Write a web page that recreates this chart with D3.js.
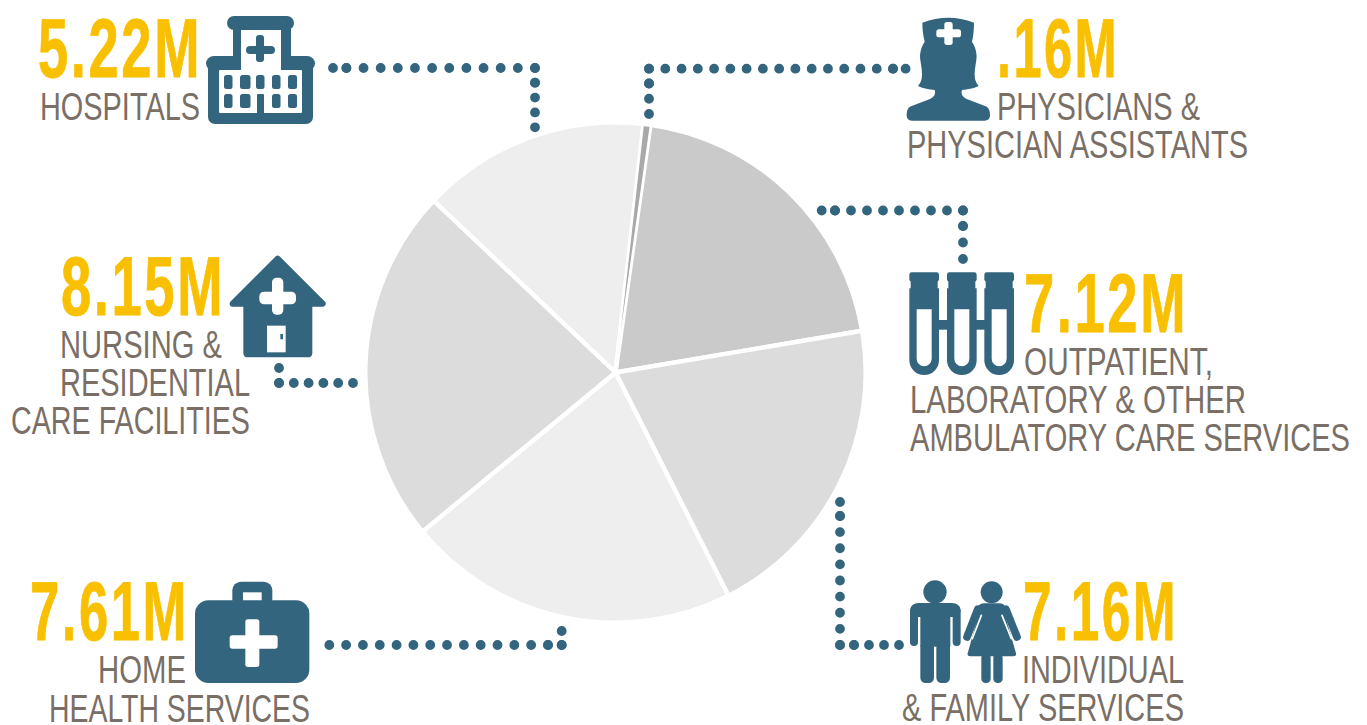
<!DOCTYPE html>
<html>
<head>
<meta charset="utf-8">
<script src="https://cdn.jsdelivr.net/npm/d3@7"></script>
<style>
  html, body { margin: 0; padding: 0; background: #fff; overflow: hidden; }
  svg { display: block; }
  .num { font-family: "Liberation Sans Narrow", "Liberation Sans", sans-serif; font-weight: 700; font-size: 84px; letter-spacing: 4px; fill: #f8c000; stroke: #f8c000; stroke-width: 0.8px; }
  .lab { font-family: "Liberation Sans Narrow", "Liberation Sans", sans-serif; font-weight: 400; font-size: 38.5px; fill: #7a6f66; }
</style>
</head>
<body>
<svg id="chart" width="1367" height="725"></svg>
<script>
// Health care employment by setting, in millions of jobs.
const categories = ["Hospitals", "Physicians & physician assistants", "Outpatient, laboratory & other ambulatory care services", "Individual & family services", "Home health services", "Nursing & residential care facilities"];
const jobsMillions = [5.22, 0.16, 7.12, 7.16, 7.61, 8.15];
const valueLabels = ["5.22M", ".16M", "7.12M", "7.16M", "7.61M", "8.15M"];
const captionLines = [["HOSPITALS"], ["PHYSICIANS &", "PHYSICIAN ASSISTANTS"], ["OUTPATIENT,", "LABORATORY & OTHER", "AMBULATORY CARE SERVICES"], ["INDIVIDUAL", "& FAMILY SERVICES"], ["HOME", "HEALTH SERVICES"], ["NURSING &", "RESIDENTIAL", "CARE FACILITIES"]];
const sliceFills = ["#eeeeee", "#a9a9a9", "#cacaca", "#dcdcdc", "#eeeeee", "#dcdcdc"];

const BLUE = "#34657f";
const svg = d3.select("#chart");

// Pie: clockwise from the hospitals slice. The white keyline eats into each
// slice, so the narrowest slice gets a finer one and is painted last.
const cx = 615.5, cy = 372.5, radius = 250.2;
const startDeg = -46.65;
const FINE = 1.2;
const isThin = d => d.value < 1;
const pie = d3.pie().sort(null).value(d => d)
  .startAngle(startDeg * Math.PI / 180)
  .endAngle((startDeg + 360) * Math.PI / 180);
const arc = d3.arc().innerRadius(0).outerRadius(d => isThin(d) ? radius - 1.6 : radius);
const slices = pie(jobsMillions).map((d, i) => ({ ...d, fill: sliceFills[i] }));
svg.append("g").attr("transform", `translate(${cx},${cy})`)
  .selectAll("path").data(d3.sort(slices, d => isThin(d) ? 1 : 0)).join("path")
  .attr("d", arc)
  .attr("fill", d => d.fill)
  .attr("stroke", "#fff").attr("stroke-width", d => isThin(d) ? FINE : 4.4).attr("stroke-linejoin", "round");

// Dotted leaders. Each run is [from, to, number of gaps].
const leaderRuns = [
  [[333, 68], [346.4, 68], 1], [[346.4, 68], [535, 68], 11], [[535, 68], [535, 82.7], 1], [[535, 82.7], [535, 127.3], 3],
  [[905.6, 68.7], [893, 68.7], 1], [[893, 68.7], [649, 68.7], 15], [[649, 68.7], [649, 83.5], 1], [[649, 83.5], [649, 114], 2],
  [[821.7, 210.5], [835, 210.5], 1], [[835, 210.5], [963, 210.5], 8], [[963, 210.5], [963, 226], 1], [[963, 226], [963, 259], 2],
  [[840, 502], [840, 516], 1], [[840, 516], [840, 645], 8], [[840, 645], [854, 645], 1], [[854, 645], [899, 645], 3],
  [[329.3, 645], [548, 645], 13], [[548, 645], [561.7, 645], 1], [[561.7, 645], [561.7, 631], 1],
  [[279, 368], [279, 383], 1], [[279, 383], [353, 383], 5]
];
const segment = d3.line();
svg.append("g").selectAll("path").data(leaderRuns).join("path")
  .attr("d", d => segment([d[0], d[1]]))
  .attr("fill", "none").attr("stroke", BLUE).attr("stroke-width", 9.8).attr("stroke-linecap", "round")
  .attr("stroke-dasharray", d => {
    const len = Math.hypot(d[1][0] - d[0][0], d[1][1] - d[0][1]);
    return `0 ${len / d[2] - 0.002}`;
  });

// Figures and captions. Each text line carries its left edge, right edge and baseline.
const figureBoxes = [[38, 202, 77], [997, 1119, 77], [1024, 1188, 332], [1023, 1178, 640], [30, 189, 640], [61, 225, 315]];
const captionBoxes = [
  [[40, 200, 120]],
  [[997, 1200, 120], [907, 1248, 158]],
  [[1024, 1213, 375], [910, 1246, 413], [910, 1350, 451]],
  [[1022, 1184, 683], [902, 1184, 721]],
  [[98, 186, 683], [49, 310, 722]],
  [[60, 222, 358], [60, 250, 396], [11, 250, 434]]
];
const fitText = (sel, cls, text, box) => sel.append("text")
  .attr("class", cls).attr("x", box[0]).attr("y", box[2])
  .attr("textLength", box[1] - box[0]).attr("lengthAdjust", "spacingAndGlyphs")
  .text(text);
const textLayer = svg.append("g");
valueLabels.forEach((v, i) => {
  fitText(textLayer, "num", v, figureBoxes[i]);
  captionLines[i].forEach((line, j) => fitText(textLayer, "lab", line, captionBoxes[i][j]));
});

// Pictograms, drawn from simple rounded shapes.
function rect(g, x, y, w, h, r, fill = BLUE) {
  g.append("rect").attr("x", x).attr("y", y).attr("width", w).attr("height", h).attr("rx", r).attr("fill", fill);
}
function shape(g, d, fill = BLUE) { g.append("path").attr("d", d).attr("fill", fill); }
const third = (x, y) => svg.append("g").attr("transform", `translate(${x},${y}) scale(${1 / 3})`);

// Hospital
(function () {
  const g = svg.append("g");
  rect(g, 227, 16, 67, 14, 7);
  rect(g, 233, 22, 58, 42, 0);
  rect(g, 206, 56, 109, 15, 8);
  rect(g, 208, 62, 105, 62, 7);
  rect(g, 241, 30, 40, 44, 0, "#fff");
  rect(g, 219, 70, 83, 43, 1, "#fff");
  rect(g, 246, 46, 29, 8, 4);
  rect(g, 256, 35, 8, 27, 3);
  [[224, 8.5], [240, 10.5], [256, 8.5], [272, 8.5], [288, 9]].forEach(([x, w], c) => {
    rect(g, x, 75, w, 14, 2.5);
    if (c !== 2) rect(g, x, 94, w, 14, 2.5);
  });
  rect(g, 257, 94, 7, 20, 1);
})();

// Nurse
(function () {
  const g = third(880, 0);
  shape(g, "M127 68 Q205 38 282 68 C282 90 280 108 276 125 C286 140 292 160 289 180 C286 200 282 220 285 236 C287 246 292 252 296 258 C280 266 262 268 246 270 C242 282 248 292 262 298 L315 318 C326 322 330 332 330 345 C330 356 324 362 314 362 L96 362 C86 362 80 356 80 345 C80 332 84 322 95 318 L148 298 C162 292 168 282 164 270 C148 268 130 266 114 258 C118 252 123 246 125 236 C128 220 124 200 121 180 C118 160 124 140 134 125 C130 108 127 90 127 68 Z");
  rect(g, 169, 88, 74, 24, 8, "#fff");
  rect(g, 193, 66, 25, 69, 8, "#fff");
})();

// Test tubes
(function () {
  const g = third(890, 260);
  [58, 171, 283].forEach(x => {
    rect(g, x, 37, 89, 28, 7);
    rect(g, x + 4, 60, 81, 30, 0);
    shape(g, `M${x} 85 H${x + 89} V301 A44.5 44 0 0 1 ${x} 301 Z`);
    shape(g, `M${x + 22} 148 H${x + 67} V296 A22.5 22.5 0 0 1 ${x + 22} 296 Z`, "#fff");
  });
  rect(g, 145, 180, 28, 29, 0);
  rect(g, 258, 180, 27, 29, 0);
})();

// Man and woman
(function () {
  const g = third(890, 570);
  g.append("circle").attr("cx", 135).attr("cy", 66).attr("r", 35).attr("fill", BLUE);
  rect(g, 60, 99, 152, 42, 26);
  rect(g, 60, 112, 24, 116, 12);
  rect(g, 188, 112, 24, 116, 12);
  rect(g, 91, 100, 90, 130, 0);
  rect(g, 91, 215, 41, 124, 16);
  rect(g, 139, 215, 41, 124, 16);
  g.append("circle").attr("cx", 305).attr("cy", 67).attr("r", 33).attr("fill", BLUE);
  const limb = (a, b, c, d, w, col) => g.append("line").attr("x1", a).attr("y1", b).attr("x2", c).attr("y2", d)
    .attr("stroke", col).attr("stroke-width", w).attr("stroke-linecap", "round");
  limb(263, 118, 231, 201, 23, BLUE);
  limb(348, 118, 381, 201, 23, BLUE);
  rect(g, 262, 100, 86, 30, 22);
  shape(g, "M272 110 H338 L378 250 Q380 259 370 259 H241 Q231 259 233 250 Z");
  limb(274, 136, 247, 206, 5, "#fff");
  limb(336, 136, 364, 206, 5, "#fff");
  rect(g, 274, 250, 28, 89, 13);
  rect(g, 310, 250, 28, 89, 13);
})();

// Medical bag
(function () {
  const g = third(180, 570);
  rect(g, 157, 35, 120, 80, 26);
  rect(g, 189, 67, 56, 40, 0, "#fff");
  rect(g, 45, 91, 343, 248, 40);
  rect(g, 149, 196, 144, 40, 8, "#fff");
  rect(g, 196, 148, 42, 143, 8, "#fff");
})();

// House
(function () {
  const g = third(220, 240);
  g.append("path").attr("d", "M173 56 L308 191 H38 Z").attr("fill", BLUE)
    .attr("stroke", BLUE).attr("stroke-width", 18).attr("stroke-linejoin", "round");
  shape(g, "M70 195 H277 V338 Q277 352 263 352 H84 Q70 352 70 338 Z");
  rect(g, 118, 155, 110, 38, 14, "#fff");
  rect(g, 156, 113, 34, 111, 14, "#fff");
  rect(g, 141, 257, 56, 80, 0, "#fff");
  rect(g, 181, 282, 8, 16, 1);
})();
</script>
</body>
</html>
